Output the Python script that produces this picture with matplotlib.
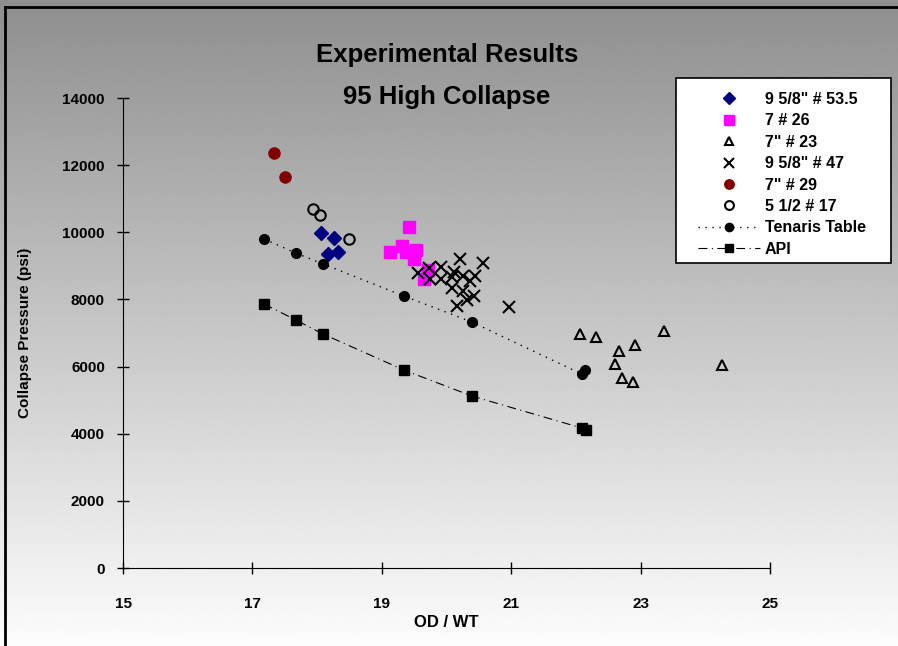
import numpy as np
import matplotlib.pyplot as plt
from matplotlib.lines import Line2D
from matplotlib.patches import Rectangle

plt.rcParams['font.family'] = ['Liberation Sans', 'DejaVu Sans']
plt.rcParams['font.weight'] = 'bold'

# 9 5/8" # 53.5
x_535 = [18.06, 18.26, 18.17, 18.32]
y_535 = [9979, 9830, 9354, 9413]

# 7 # 26
x_26 = [19.42, 19.31, 19.13, 19.37, 19.53, 19.50, 19.71, 19.65]
y_26 = [10168, 9592, 9413, 9413, 9463, 9214, 8877, 8600]

# 7" # 23
x_23 = [22.06, 22.31, 23.36, 22.92, 22.66, 22.61, 24.26, 22.72, 22.88]
y_23 = [6971, 6890, 7060, 6643, 6464, 6077, 6038, 5651, 5541]

# 9 5/8" # 47
x_47 = [20.21, 20.56, 19.73, 19.92, 19.56, 20.12, 20.26, 20.44, 19.75,
        19.91, 20.08, 20.36, 20.09, 20.25, 20.42, 20.31, 20.16, 20.97]
y_47 = [9196, 9077, 8928, 8958, 8779, 8828, 8698, 8698, 8600,
        8600, 8679, 8560, 8352, 8262, 8103, 7983, 7805, 7766]

# 7" # 29
x_29 = [17.33, 17.50]
y_29 = [12371, 11656]

# 5 1/2 # 17
x_17 = [17.94, 18.05, 18.49]
y_17 = [10685, 10525, 9800]

# Tenaris Table
x_ten = [17.18, 17.67, 18.09, 19.34, 20.39, 22.09, 22.14]
y_ten = [9800, 9383, 9056, 8103, 7328, 5779, 5898]

# API
x_api = [17.18, 17.67, 18.09, 19.34, 20.39, 22.09, 22.16]
y_api = [7864, 7388, 6971, 5898, 5124, 4170, 4111]

x_ticks = [15, 17, 19, 21, 23, 25]
y_ticks = [0, 2000, 4000, 6000, 8000, 10000, 12000, 14000]

W, H = 898, 646
fig = plt.figure(figsize=(W / 100, H / 100), dpi=100)

# gray-to-white gradient behind everything
bg = fig.add_axes([0, 0, 1, 1], zorder=-10)
grad = np.linspace(0.56, 0.99, 256).reshape(-1, 1)
bg.imshow(grad, cmap='gray', vmin=0, vmax=1, aspect='auto', extent=[0, 1, 0, 1])
bg.set_axis_off()
# chart frame (left and top edges visible)
fig.add_artist(Line2D([5/W, 5/W], [0, 1 - 7/H], color='black', lw=2, transform=fig.transFigure))
fig.add_artist(Line2D([5/W, 1], [1 - 7/H, 1 - 7/H], color='black', lw=2, transform=fig.transFigure))

ax = fig.add_axes([123/W, 1 - 568/H, (770 - 123)/W, (568 - 98)/H])
ax.patch.set_alpha(0)

ax.plot(x_535, y_535, 'D', color='#000080', ms=7, ls='none', label='9 5/8" # 53.5')
ax.plot(x_26, y_26, 's', color='#ff00ff', ms=8, ls='none', label='7 # 26')
ax.plot(x_23, y_23, '^', mfc='none', mec='black', mew=1.5, ms=7.5, ls='none', label='7" # 23')
ax.plot(x_47, y_47, 'x', color='black', mew=1.5, ms=8, ls='none', label='9 5/8" # 47')
ax.plot(x_29, y_29, 'o', color='#800000', ms=8, ls='none', label='7" # 29')
ax.plot(x_17, y_17, 'o', mfc='none', mec='black', mew=1.5, ms=7.5, ls='none', label='5 1/2 # 17')
ax.plot(x_ten, y_ten, 'o', color='black', ms=7, ls=(0, (1, 4)), lw=1, label='Tenaris Table')
ax.plot(x_api, y_api, 's', color='black', ms=7, ls=(0, (8, 4, 1, 4)), lw=0.8, label='API')

ax.set_xlim(15, 25)
ax.set_ylim(0, 14000)
ax.set_xticks(x_ticks)
ax.set_yticks(y_ticks)
ax.spines['top'].set_visible(False)
ax.spines['right'].set_visible(False)
ax.tick_params(direction='inout', length=8, width=1, labelsize=11)
ax.tick_params(axis='y', pad=9)
ax.tick_params(axis='x', pad=17)
for lab in ax.get_xticklabels() + ax.get_yticklabels():
    lab.set_fontweight('bold')
ax.set_xlabel('OD / WT', fontsize=12, fontweight='bold', labelpad=3)
ax.set_ylabel('Collapse Pressure (psi)', fontsize=11, fontweight='bold', labelpad=22)

fig.text(447/W, 1 - 55/H, 'Experimental Results', ha='center', va='center',
         fontsize=18.5, fontweight='bold')
fig.text(447/W, 1 - 97/H, '95 High Collapse', ha='center', va='center',
         fontsize=18.5, fontweight='bold')

# legend box drawn separately, legend entries placed inside it
fig.add_artist(Rectangle((676/W, 1 - 263/H), (891 - 676)/W, (263 - 78)/H,
                         transform=fig.transFigure, facecolor='white',
                         edgecolor='black', lw=1.2, zorder=5))
handles, labels = ax.get_legend_handles_labels()
leg = fig.legend(handles, labels, loc='upper left', bbox_to_anchor=(698/W, 1 - 92/H),
                 bbox_transform=fig.transFigure, fontsize=11.5, frameon=False,
                 handlelength=3.9, handletextpad=0.3, borderpad=0,
                 labelspacing=0.4, borderaxespad=0, markerscale=0.85)
leg.set_zorder(6)
for t in leg.get_texts():
    t.set_fontweight('bold')

fig.savefig('out.png', dpi=100)
